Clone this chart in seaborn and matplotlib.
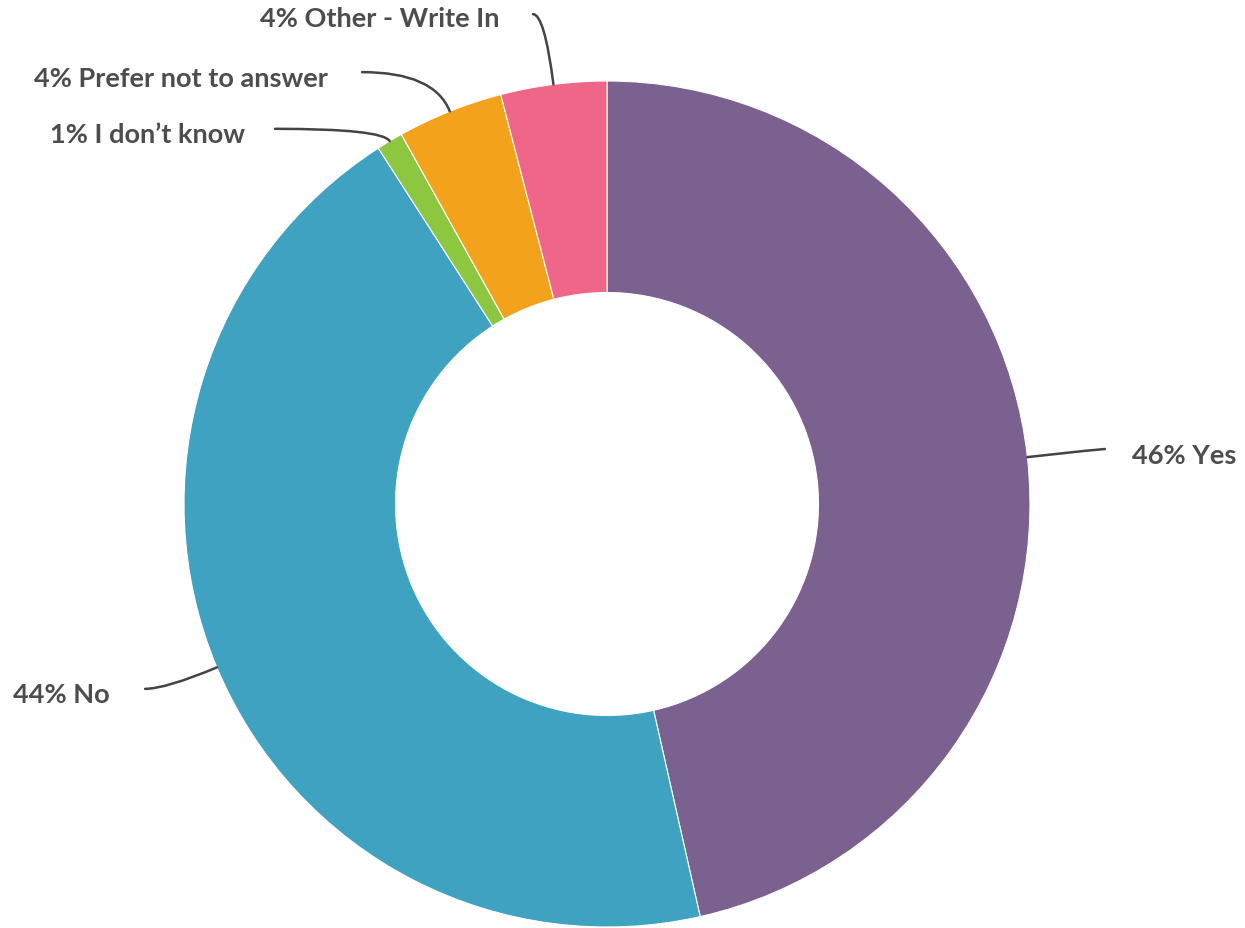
import numpy as np
import matplotlib
matplotlib.use("Agg")
import matplotlib.pyplot as plt
from matplotlib.path import Path
from matplotlib.patches import PathPatch
import seaborn as sns

# Survey responses, clockwise from 12 o'clock
categories = ["Yes", "No", "I don\u2019t know", "Prefer not to answer", "Other - Write In"]
percents = [46, 44, 1, 4, 4]
colors = ["#7B6190", "#3FA2C0", "#8DC63F", "#F3A31B", "#EF6689"]

# Label placement (data units, outer radius = 1): line end point and text anchor
line_ends = [(1.177, 0.130), (-1.092, -0.437), (-0.785, 0.887), (-0.579, 1.021), (-0.175, 1.158)]
text_pos = [(1.241, 0.116), (-1.175, -0.449), (-0.856, 0.874), (-0.660, 1.007), (-0.253, 1.150)]
text_ha = ["left", "right", "right", "right", "right"]

sns.set_theme(style="white")
plt.rcParams["font.family"] = ["Lato", "DejaVu Sans"]

W, H = 1245, 929
cx, cy, R = 607, 505, 423
fig = plt.figure(figsize=(W / 100, H / 100), dpi=100)
ax = fig.add_axes([0, 0, 1, 1])

wedges, _ = ax.pie(
    percents, colors=sns.color_palette(colors), startangle=90, counterclock=False,
    radius=1.0, wedgeprops=dict(width=0.5, edgecolor="white", linewidth=0.8),
)

ax.set_xlim(-cx / R, (W - cx) / R)
ax.set_ylim(-(H - cy) / R, cy / R)
ax.set_aspect("equal")
ax.axis("off")

label_color = "#4D4D4D"
for w, cat, pct, end, tp, ha in zip(wedges, categories, percents, line_ends, text_pos, text_ha):
    mid = np.deg2rad((w.theta1 + w.theta2) / 2)
    d = np.array([np.cos(mid), np.sin(mid)])
    p0 = d * 1.0
    # elbow where the radial direction meets the horizontal through the end point
    t = (end[1] - p0[1]) / d[1] if abs(d[1]) > 1e-6 else 0.1
    ctrl = p0 + d * max(t, 0.0)
    path = Path([tuple(p0), tuple(ctrl), end], [Path.MOVETO, Path.CURVE3, Path.CURVE3])
    ax.add_patch(PathPatch(path, facecolor="none", edgecolor="#444444", lw=1.8, capstyle="round"))
    ax.text(tp[0], tp[1], f"{pct}% {cat}", ha=ha, va="center", fontsize=19.5,
            fontweight="bold", color=label_color)

fig.savefig("out.png", dpi=100, facecolor="white")
